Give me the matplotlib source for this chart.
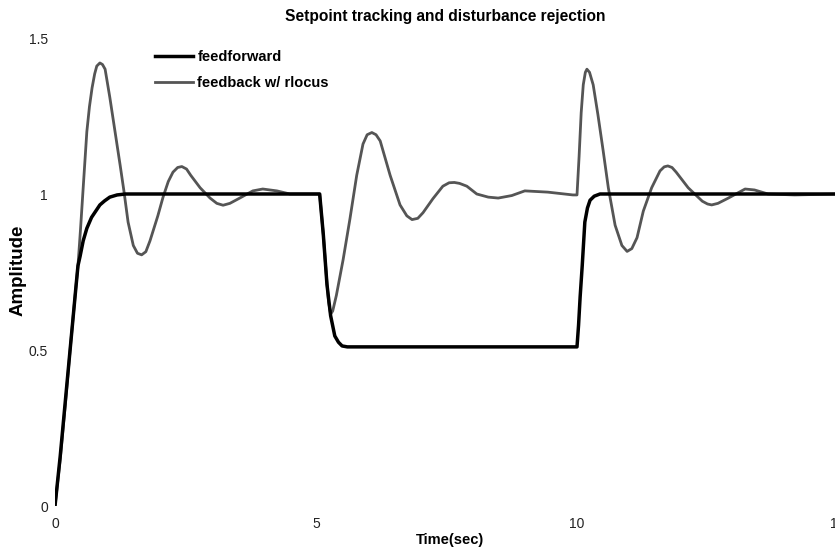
import matplotlib
matplotlib.use("Agg")
import matplotlib.pyplot as plt

plt.rcParams['font.family'] = ['Liberation Sans', 'DejaVu Sans']

# Step response samples (time in seconds, output amplitude)
ff_t = [0.0, 0.1, 0.2, 0.3, 0.4, 0.44, 0.48, 0.54, 0.61, 0.7, 0.8, 0.86, 0.95,
        1.05, 1.19, 1.35, 1.6, 5.07, 5.14, 5.21, 5.28, 5.36, 5.43, 5.5, 5.6,
        5.75, 10.0, 10.03, 10.06, 10.1, 10.15, 10.2, 10.25, 10.33, 10.44, 15.0]
ff_y = [0.0, 0.16, 0.34, 0.52, 0.70, 0.77, 0.80, 0.85, 0.89, 0.925, 0.95, 0.965,
        0.978, 0.99, 0.997, 1.0, 1.0, 1.0, 0.87, 0.71, 0.61, 0.545, 0.525, 0.513,
        0.51, 0.51, 0.51, 0.58, 0.67, 0.77, 0.91, 0.955, 0.98, 0.993, 1.0, 1.0]

fb_t = [0.0, 0.1, 0.2, 0.3, 0.4, 0.44, 0.49, 0.54, 0.61, 0.66, 0.71, 0.76, 0.8,
        0.86, 0.91, 0.96, 1.05, 1.15, 1.25, 1.32, 1.4, 1.5, 1.58, 1.66, 1.74,
        1.82, 1.97, 2.07, 2.17, 2.26, 2.35, 2.43, 2.52, 2.6, 2.78, 2.97, 3.1,
        3.22, 3.35, 3.54, 3.79, 3.98, 4.25, 4.5, 5.07, 5.14, 5.2, 5.24, 5.28,
        5.32, 5.39, 5.52, 5.65, 5.78, 5.9, 5.98, 6.07, 6.15, 6.23, 6.42, 6.61,
        6.74, 6.84, 6.95, 7.05, 7.24, 7.43, 7.55, 7.65, 7.75, 7.89, 8.08, 8.3,
        8.49, 8.75, 9.0, 9.44, 9.92, 10.0, 10.04, 10.08, 10.12, 10.16, 10.19,
        10.24, 10.31, 10.4, 10.5, 10.6, 10.73, 10.86, 10.96, 11.05, 11.15, 11.27,
        11.43, 11.59, 11.67, 11.74, 11.82, 11.9, 12.13, 12.4, 12.5, 12.58, 12.7,
        12.9, 13.22, 13.4, 13.66, 14.17, 15.0]
fb_y = [0.0, 0.15, 0.33, 0.52, 0.70, 0.77, 0.89, 1.02, 1.2, 1.28, 1.34, 1.385,
        1.41, 1.42, 1.415, 1.40, 1.31, 1.2, 1.09, 1.01, 0.91, 0.835, 0.81, 0.805,
        0.815, 0.85, 0.93, 0.99, 1.04, 1.07, 1.085, 1.088, 1.08, 1.06, 1.02, 0.987,
        0.97, 0.964, 0.97, 0.987, 1.01, 1.016, 1.01, 1.0, 1.0, 0.87, 0.735, 0.655,
        0.615, 0.625, 0.675, 0.79, 0.92, 1.06, 1.16, 1.19, 1.197, 1.19, 1.17,
        1.06, 0.965, 0.93, 0.918, 0.922, 0.94, 0.985, 1.025, 1.036, 1.037, 1.034,
        1.025, 1.0, 0.99, 0.987, 0.995, 1.01, 1.006, 0.997, 0.997, 1.12, 1.26,
        1.35, 1.39, 1.40, 1.39, 1.35, 1.255, 1.14, 1.02, 0.9, 0.835, 0.816, 0.825,
        0.86, 0.945, 1.02, 1.074, 1.087, 1.09, 1.085, 1.07, 1.02, 0.977, 0.968,
        0.965, 0.97, 0.987, 1.016, 1.013, 1.0, 0.997, 1.0]

x_ticks = [0, 5, 10, 15]
y_ticks = [0, 0.5, 1, 1.5]
y_tick_labels = ['0', '0.5', '1', '1.5']

fig = plt.figure(figsize=(8.35, 5.51), dpi=100)
ax = fig.add_axes([55 / 835, 1 - 506 / 551, 783 / 835, 468 / 551])

ax.plot(fb_t, fb_y, color='#555555', lw=2.0, label='feedback w/ rlocus',
        zorder=2, solid_joinstyle='round')
ax.plot(ff_t, ff_y, color='black', lw=2.5, label='feedforward', zorder=3,
        solid_joinstyle='round')

ax.set_xlim(0, 15)
ax.set_ylim(0, 1.5)
ax.set_xticks(x_ticks)
ax.set_xticklabels([str(v) for v in x_ticks])
ax.set_yticks(y_ticks)
ax.set_yticklabels(y_tick_labels)
ax.tick_params(length=0, labelsize=10, colors='#222222')
ax.tick_params(axis='x', pad=8)
ax.tick_params(axis='y', pad=5)
for side in ax.spines.values():
    side.set_visible(False)

fig.text(445 / 835, 1 - 17 / 551, 'Setpoint tracking and disturbance rejection',
         ha='center', va='center', fontsize=11.2, fontweight='bold')
fig.text(450 / 835, 1 - 540 / 551, 'Time(sec)', ha='center', va='center',
         fontsize=10.5, fontweight='bold')
fig.text(18 / 835, 1 - 270 / 551, 'Amplitude', ha='center', va='center',
         fontsize=13.5, fontweight='bold', rotation=90)

handles, labels = ax.get_legend_handles_labels()
ax.legend(handles[::-1], labels[::-1], loc='upper left', frameon=False,
          bbox_to_anchor=(155 / 835, 1 - 50 / 551), bbox_transform=fig.transFigure,
          borderpad=0, borderaxespad=0, handlelength=2.6, handletextpad=0.3,
          labelspacing=0.85, prop={'size': 10.5, 'weight': 'bold'})

fig.savefig('out.png', dpi=100)
